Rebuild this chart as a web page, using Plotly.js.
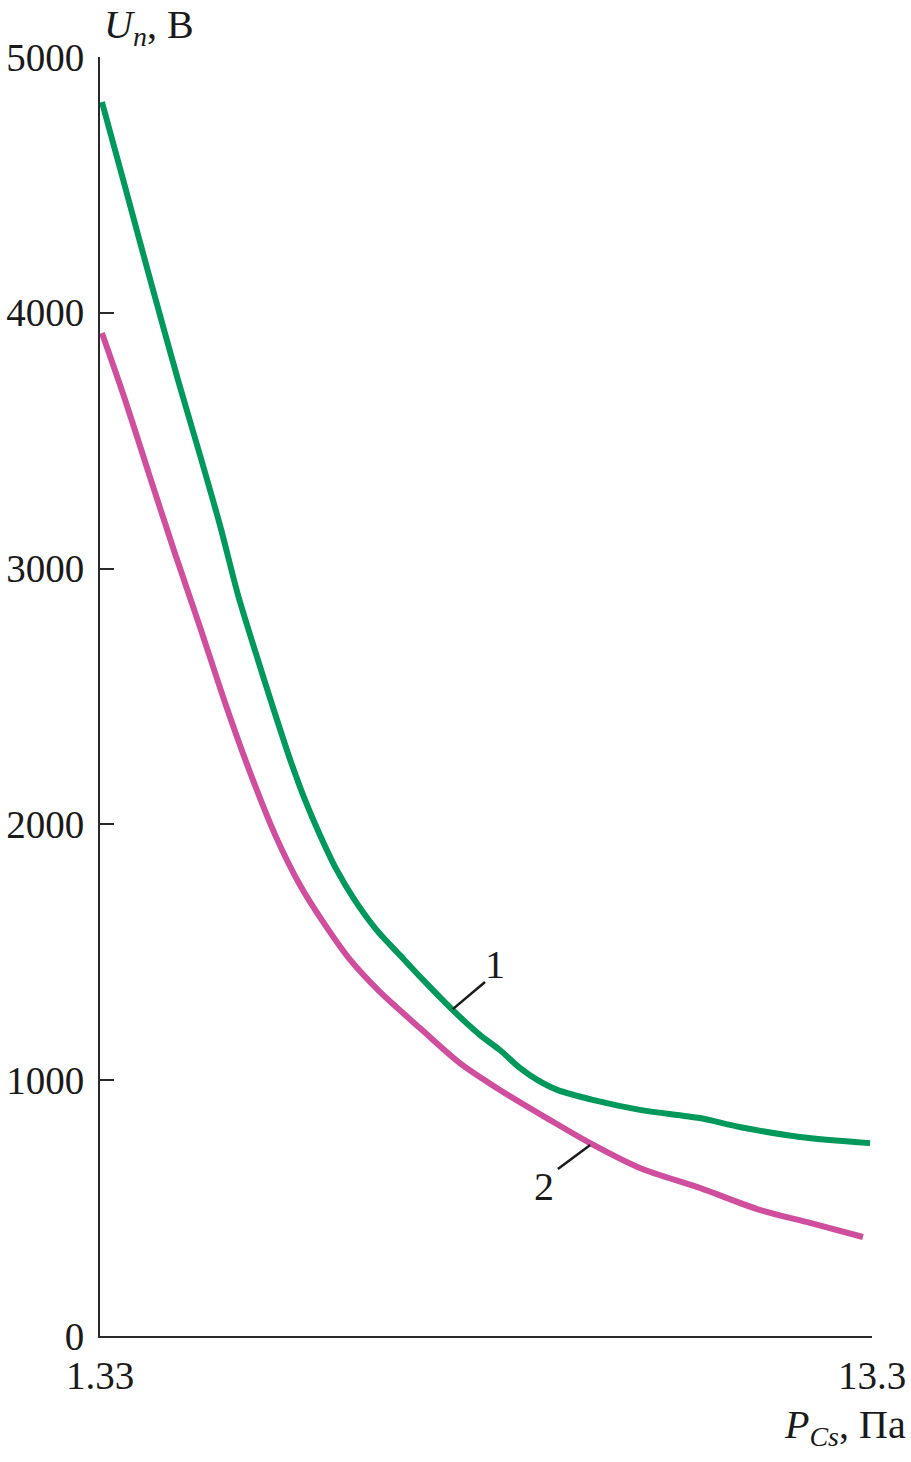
<!DOCTYPE html>
<html>
<head>
<meta charset="utf-8">
<script src="https://cdn.plot.ly/plotly-3.0.1.min.js"></script>
<style>html,body{margin:0;padding:0;background:#fff;}#chart{width:911px;height:1462px;}</style>
</head>
<body>
<div id="chart"></div>
<script>
// Curve 1 (green)
const x1 = [1.36, 1.69, 2.11, 2.54, 2.88, 3.19, 3.47, 3.73, 4.00, 4.28, 4.51, 4.74, 5.00, 5.28, 5.62, 5.98, 6.34, 6.80, 7.22, 7.53, 7.84, 8.11, 8.42, 8.97, 9.70, 10.63, 11.25, 12.18, 13.27];
const y1 = [4824, 4519, 4128, 3737, 3444, 3170, 2897, 2682, 2467, 2252, 2095, 1959, 1822, 1704, 1587, 1489, 1392, 1274, 1177, 1118, 1048, 1001, 962, 923, 884, 852, 817, 778, 754];
// Curve 2 (pink)
const x2 = [1.36, 1.72, 2.11, 2.49, 2.88, 3.27, 3.66, 4.04, 4.43, 4.82, 5.21, 5.67, 6.29, 6.91, 7.53, 8.31, 8.93, 9.70, 10.63, 11.56, 12.34, 13.16];
const y2 = [3921, 3659, 3354, 3061, 2772, 2475, 2201, 1962, 1763, 1607, 1470, 1345, 1204, 1067, 962, 844, 754, 657, 579, 493, 442, 387];

const xTicks = [1.33, 13.3];
const xTickText = ['1.33', '13.3'];
const yTicks = [0, 1000, 2000, 3000, 4000, 5000];

// Curve labels: text positions and leader lines (data units)
const labelText = ['1', '2'];
const labelX = [7.455, 8.21];
const labelY = [1454, 586];
const leaderX0 = [6.80, 8.43];
const leaderY0 = [1278, 653];
const leaderX1 = [7.30, 8.93];
const leaderY1 = [1384, 747];

const FONT = '"Liberation Serif", "Times New Roman", serif';
const AX = '#2a2a2a';

const traces = [
  {x: x1, y: y1, mode: 'lines', line: {color: '#00985B', width: 6, shape: 'spline', smoothing: 0.8}, hoverinfo: 'skip'},
  {x: x2, y: y2, mode: 'lines', line: {color: '#CF4F9E', width: 6, shape: 'spline', smoothing: 0.8}, hoverinfo: 'skip'}
];

const shapes = labelText.map((t, i) => ({
  type: 'line', xref: 'x', yref: 'y',
  x0: leaderX0[i], y0: leaderY0[i], x1: leaderX1[i], y1: leaderY1[i],
  line: {color: '#1a1a1a', width: 2.5}
}));

const annotations = labelText.map((t, i) => ({
  x: labelX[i], y: labelY[i], xref: 'x', yref: 'y', text: t, showarrow: false,
  font: {family: FONT, size: 40, color: '#1a1a1a'}
}));

annotations.push({
  xref: 'paper', yref: 'paper', x: 0, y: 1, xshift: 2, yshift: 30,
  xanchor: 'left', yanchor: 'middle',
  text: '<i>U<sub>n</sub></i>, В', showarrow: false,
  font: {family: FONT, size: 40, color: '#1a1a1a'}
});
annotations.push({
  xref: 'paper', yref: 'paper', x: 1, y: 0, xshift: 36, yshift: -64,
  xanchor: 'right', yanchor: 'top',
  text: '<i>P<sub>Cs</sub></i>, Па', showarrow: false,
  font: {family: FONT, size: 40, color: '#1a1a1a'}
});

const layout = {
  width: 911, height: 1462,
  margin: {l: 100, r: 39, t: 57, b: 126},
  paper_bgcolor: '#ffffff', plot_bgcolor: '#ffffff',
  showlegend: false,
  font: {family: FONT, size: 39, color: '#1a1a1a'},
  xaxis: {
    range: [1.33, 13.3], showgrid: false, zeroline: false,
    showline: true, linecolor: AX, linewidth: 2,
    ticks: 'inside', ticklen: 14, tickwidth: 2, tickcolor: AX,
    tickvals: xTicks, ticktext: xTickText,
    ticklabelstandoff: 4,
    tickfont: {family: FONT, size: 39, color: '#1a1a1a'}
  },
  yaxis: {
    range: [0, 5000], showgrid: false, zeroline: false,
    showline: true, linecolor: AX, linewidth: 2,
    ticks: 'inside', ticklen: 14, tickwidth: 2, tickcolor: AX,
    tickvals: yTicks, ticktext: yTicks.map(String),
    ticklabelstandoff: 6,
    tickfont: {family: FONT, size: 39, color: '#1a1a1a'}
  },
  shapes: shapes,
  annotations: annotations
};

Plotly.newPlot('chart', traces, layout, {displayModeBar: false, staticPlot: true});
</script>
</body>
</html>
